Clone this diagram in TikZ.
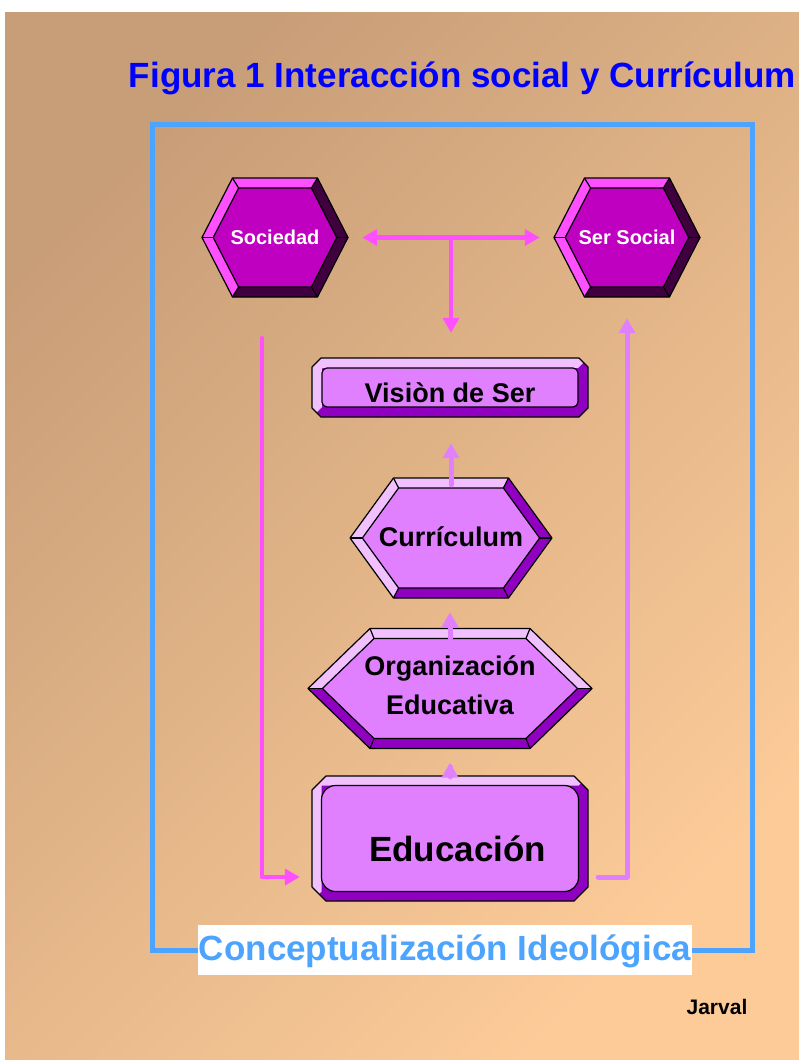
\documentclass[tikz,border=0pt]{standalone}
\usepackage{fontspec}
\setmainfont{Liberation Sans}
\usetikzlibrary{arrows.meta,calc}
\definecolor{bgtan}{RGB}{200,158,120}
\definecolor{bgpeach}{RGB}{252,203,152}
\definecolor{titleblue}{RGB}{0,0,255}
\definecolor{frameblue}{RGB}{77,164,255}
\definecolor{hotpink}{RGB}{255,80,255}
\definecolor{socface}{RGB}{192,0,192}
\definecolor{soclight}{RGB}{255,80,255}
\definecolor{socdark}{RGB}{64,0,64}
\definecolor{vioface}{RGB}{224,128,255}
\definecolor{violight}{RGB}{240,192,255}
\definecolor{viodark}{RGB}{144,0,192}

\tikzset{
  headtip/.tip={Triangle[length=15pt,width=16pt]},
  bevline/.style={black,line width=1.2pt,line join=round},
  hexlabel/.style={inner sep=0pt,text=white,font=\bfseries\fontsize{20}{24}\selectfont},
  boxlabel/.style={inner sep=0pt,align=center,font=\bfseries\fontsize{27}{39}\selectfont},
  pinkline/.style={hotpink,line width=4.5pt,line cap=round,line join=round},
  violine/.style={vioface,line width=5pt,line cap=round,line join=round},
}

% beveled hexagon: half width, half top edge, half height, inset, colour set, light part
\newcommand\hexbevel[6]{%
  \pgfmathsetmacro\bvS{sqrt((#1-#2)^2+(#3)^2)}%
  \pgfmathsetmacro\bvL{#1-#4*\bvS/#3}%
  \pgfmathsetmacro\bvT{#2-#4*(\bvS-#1+#2)/#3}%
  \pgfmathsetmacro\bvH{#3-#4}%
  \coordinate (oL) at (-#1,0); \coordinate (oTL) at (-#2,-#3);
  \coordinate (oTR) at (#2,-#3); \coordinate (oR) at (#1,0);
  \coordinate (oBR) at (#2,#3); \coordinate (oBL) at (-#2,#3);
  \coordinate (iL) at (-\bvL,0); \coordinate (iTL) at (-\bvT,-\bvH);
  \coordinate (iTR) at (\bvT,-\bvH); \coordinate (iR) at (\bvL,0);
  \coordinate (iBR) at (\bvT,\bvH); \coordinate (iBL) at (-\bvT,\bvH);
  \fill[#5dark] (oL)--(oTL)--(oTR)--(oR)--(oBR)--(oBL)--cycle;
  \ifnum#6=1
    \fill[#5light] (oBL)--(oL)--(oTL)--(oTR)--(iTR)--(iTL)--(iL)--(iBL)--cycle;
  \else
    \fill[#5light] (oL)--(oTL)--(oTR)--(oR)--(iR)--(iTR)--(iTL)--(iL)--cycle;
  \fi
  \fill[#5face] (iL)--(iTL)--(iTR)--(iR)--(iBR)--(iBL)--cycle;
  \draw[bevline] (oL)--(oTL)--(oTR)--(oR)--(oBR)--(oBL)--cycle;
  \draw[bevline] (iL)--(iTL)--(iTR)--(iR)--(iBR)--(iBL)--cycle;
  \foreach \v in {L,TL,TR,R,BR,BL} \draw[bevline] (o\v)--(i\v);
}

% beveled box: half width, half height, inset, chamfer, inner radius
\newcommand\rectbevel[5]{%
  \pgfmathsetmacro\bvW{#1-#3}%
  \pgfmathsetmacro\bvH{#2-#3}%
  \def\bvout{({-#1+#4},-#2)--({#1-#4},-#2)--(#1,{-#2+#4})--(#1,{#2-#4})--({#1-#4},#2)--({-#1+#4},#2)--(-#1,{#2-#4})--(-#1,{-#2+#4})--cycle}%
  \fill[viodark] \bvout;
  \begin{scope}
    \clip \bvout;
    \fill[violight] (-#1,#2)--(-#1,-#2)--(#1,-#2)--(\bvW,-\bvH)--(-\bvW,-\bvH)--(-\bvW,\bvH)--cycle;
  \end{scope}
  \draw[bevline,fill=vioface,rounded corners=#5] (-\bvW,-\bvH) rectangle (\bvW,\bvH);
  \draw[bevline] \bvout;
}

\begin{document}
\begin{tikzpicture}[x=1pt,y=-1pt]
  \useasboundingbox (0,0) rectangle (799,1061);
  \fill[white] (0,0) rectangle (799,1061);
  \shade[top color=bgtan,bottom color=bgpeach,shading angle=45] (5,12) rectangle (799,1059);

  \node[text=titleblue,font=\bfseries\fontsize{35}{42}\selectfont] (title) at (462.5,78)
    {Figura 1 Interacción social y Currículum};

  \draw[frameblue,line width=5pt] (152,124) rectangle (752,950);

  % shapes
  \begin{scope}[shift={(275,237.5)}] \hexbevel{73}{42.5}{59.5}{10}{soc}{1} \end{scope}
  \begin{scope}[shift={(627,237.5)}] \hexbevel{73}{42.5}{59.5}{10}{soc}{1} \end{scope}
  \begin{scope}[shift={(450,387.5)}] \rectbevel{138}{29.5}{10}{9}{5pt} \end{scope}
  \begin{scope}[shift={(451,538)}] \hexbevel{101}{57.5}{60}{10}{vio}{1} \end{scope}
  \begin{scope}[shift={(450,688.5)}] \hexbevel{142}{80}{60}{10}{vio}{2} \end{scope}
  \begin{scope}[shift={(450,838.5)}] \rectbevel{138}{62.5}{9.5}{14}{14pt} \end{scope}

  % labels
  \node[hexlabel,minimum width=146pt,minimum height=119pt] (soc) at (275,237.5) {Sociedad};
  \node[hexlabel,minimum width=146pt,minimum height=119pt] (ser) at (627,237.5) {Ser Social};
  \node[boxlabel,minimum width=276pt,minimum height=59pt,text height=30pt,text depth=0pt] (vis) at (450,387.5) {Visiòn de Ser};
  \node[boxlabel,minimum width=202pt,minimum height=120pt,text height=16pt,text depth=0pt] (cur) at (451,538) {Currículum};
  \node[boxlabel,minimum width=284pt,minimum height=120pt,text depth=7pt] (org) at (450,688.5) {Organización\\Educativa};
  \node[boxlabel,font=\bfseries\fontsize{35}{42}\selectfont,minimum width=276pt,minimum height=125pt,text height=45pt,text depth=0pt] (edu) at (450,838.5) {\hspace{15pt}Educación};

  % connectors
  \coordinate (fork) at ($(soc.east)!0.5!(ser.west)$);
  \draw[pinkline,headtip-headtip,shorten <=14pt,shorten >=14pt] (soc.east) -- (ser.west);
  \draw[pinkline,-headtip,shorten >=25pt] (fork) -- (fork |- vis.north);
  \draw[violine,-headtip,shorten <=-7pt,shorten >=26pt] (cur.north) -- (cur.north |- vis.south);
  \draw[violine,-headtip,shorten <=-10pt,shorten >=14pt] (org.north) -- (org.north |- cur.south);
  \draw[violine,-headtip,shorten <=-9pt,shorten >=14pt] (edu.north) -- (org.south);
  \draw[pinkline,-headtip] ([shift={(-13pt,-41pt)}]soc.south) |- ([shift={(-12pt,-38.5pt)}]edu.west);
  \draw[violine,-headtip] ([shift={(10pt,-38.5pt)}]edu.east) -| ([yshift=-21pt]ser.south);

  \node[fill=white,text=frameblue,font=\bfseries\fontsize{35}{42}\selectfont,inner sep=0pt,
    minimum width=494pt,minimum height=50pt,text height=27pt,text depth=7pt] (ideo) at (445,950)
    {Conceptualización Ideológica};
  \node[font=\bfseries\fontsize{21}{25}\selectfont] (jarval) at (717,1007) {Jarval};
\end{tikzpicture}
\end{document}
